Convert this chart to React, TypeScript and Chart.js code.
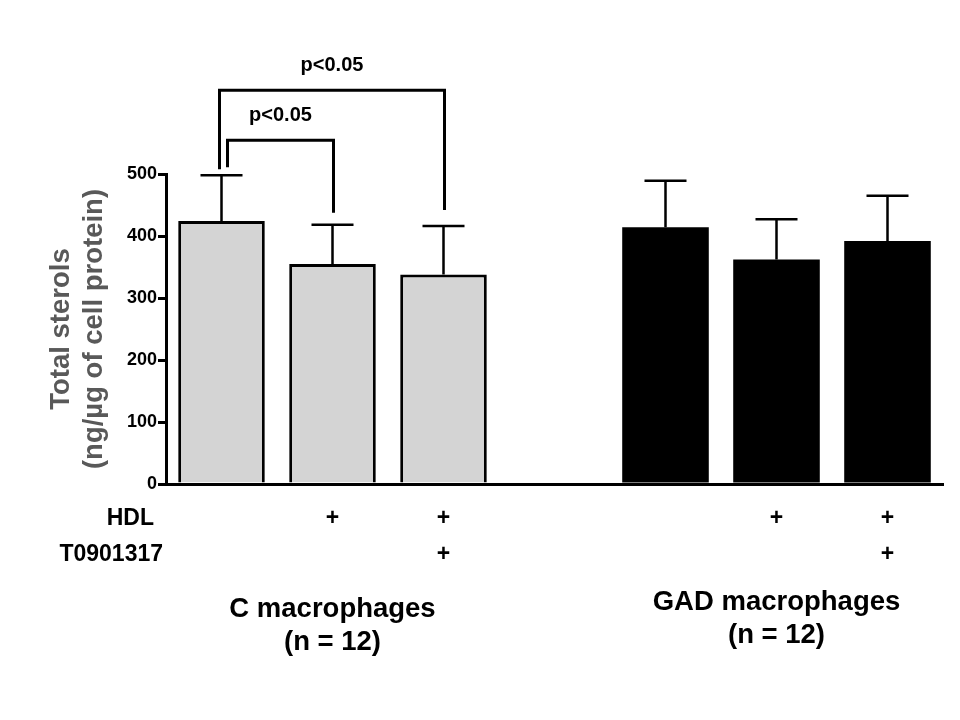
import React, { useEffect, useRef } from "react";
import { Chart, registerables } from "chart.js";

Chart.register(...registerables);

// ---------- data ----------
const categories = ["C", "C + HDL", "C + HDL + T0901317", "", "GAD", "GAD + HDL", "GAD + HDL + T0901317"];
const groupOfBar = ["C", "C", "C", "", "GAD", "GAD", "GAD"];
const meanValues = [424, 355, 338, null, 414, 362, 392];
const sdValues = [74, 63, 78, null, 75, 65, 73];
const hdlRow = ["", "+", "+", "", "", "+", "+"];
const t0901317Row = ["", "", "+", "", "", "", "+"];
const rowLabels = ["HDL", "T0901317"];
const groupLabels = [
  { center: 1, lines: ["C macrophages", "(n = 12)"] },
  { center: 5, lines: ["GAD macrophages", "(n = 12)"] },
];
const comparisons = [
  { from: 0, to: 1, label: "p<0.05" },
  { from: 0, to: 2, label: "p<0.05" },
];
const yTitle = ["Total sterols", "(ng/\u00b5g of cell protein)"];
const yMin = 0;
const yMax = 500;
const yStep = 100;

// ---------- styles ----------
const FONT = "'Liberation Sans', Arial, Helvetica, sans-serif";
const groupFill: Record<string, string> = { C: "#d4d4d4", GAD: "#000000" };
const groupBorder: Record<string, number> = { C: 3, GAD: 0 };

const annotationPlugin = {
  id: "annotations",
  afterDatasetsDraw(chart: any) {
    const ctx: CanvasRenderingContext2D = chart.ctx;
    const xs = chart.scales.x;
    const ys = chart.scales.y;
    const meta = chart.getDatasetMeta(0);
    ctx.save();
    ctx.strokeStyle = "#000";
    ctx.fillStyle = "#000";
    ctx.lineCap = "butt";

    // error bars (upper SD)
    ctx.lineWidth = 2.5;
    const caps: number[] = [];
    meta.data.forEach((bar: any, i: number) => {
      const m = meanValues[i];
      const s = sdValues[i];
      if (m == null || s == null) return;
      const cx = bar.x;
      const yBar = ys.getPixelForValue(m);
      const yCap = ys.getPixelForValue(m + s);
      caps[i] = yCap;
      ctx.beginPath();
      ctx.moveTo(cx, yBar);
      ctx.lineTo(cx, yCap);
      ctx.moveTo(cx - 21, yCap);
      ctx.lineTo(cx + 21, yCap);
      ctx.stroke();
    });

    // significance brackets
    ctx.lineWidth = 3;
    ctx.lineJoin = "miter";
    ctx.font = `bold 20px ${FONT}`;
    ctx.textAlign = "center";
    ctx.textBaseline = "middle";
    comparisons.forEach((c, level) => {
      let highest = Infinity;
      for (let i = c.from; i <= c.to; i++) {
        if (caps[i] != null) highest = Math.min(highest, caps[i]);
      }
      const top = highest - 35 - 50 * level;
      const xl = meta.data[c.from].x + 6 - 8 * level;
      const xr = meta.data[c.to].x + 1;
      const yl = caps[c.from] - 6 - 2 * (1 - level);
      const yr = caps[c.to] - 12 - 4 * level;
      ctx.beginPath();
      ctx.moveTo(xl, yl);
      ctx.lineTo(xl, top);
      ctx.lineTo(xr, top);
      ctx.lineTo(xr, yr);
      ctx.stroke();
      ctx.fillText(c.label, (xl + xr) / 2, top - 25);
    });

    // treatment rows
    const base = ys.getPixelForValue(0);
    const rows = [hdlRow, t0901317Row];
    const rowY = [base + 35, base + 71];
    ctx.font = `bold 23px ${FONT}`;
    rows.forEach((row, r) => {
      ctx.textAlign = "right";
      ctx.fillText(rowLabels[r], r === 0 ? 154 : 163, rowY[r]);
      ctx.textAlign = "center";
      row.forEach((mark, i) => {
        if (mark) ctx.fillText(mark, xs.getPixelForValue(i), rowY[r]);
      });
    });

    // group labels
    ctx.font = `bold 27.5px ${FONT}`;
    ctx.textAlign = "center";
    groupLabels.forEach((g, gi) => {
      const gx = xs.getPixelForValue(g.center);
      const y0 = gi === 0 ? base + 125 : base + 118;
      g.lines.forEach((line, li) => ctx.fillText(line, gx, y0 + li * 33));
    });
    ctx.restore();
  },
};

export default function App() {
  const ref = useRef<HTMLCanvasElement>(null);
  useEffect(() => {
    const chart = new Chart(ref.current as HTMLCanvasElement, {
      type: "bar",
      data: {
        labels: categories,
        datasets: [
          {
            data: meanValues as any,
            backgroundColor: groupOfBar.map((g) => groupFill[g] || "transparent"),
            borderColor: "#000",
            borderWidth: groupOfBar.map((g) => groupBorder[g] || 0) as any,
            borderSkipped: "start",
            barPercentage: 0.78,
            categoryPercentage: 1,
          },
        ],
      },
      options: {
        responsive: false,
        animation: false,
        layout: { padding: { left: 0, right: 17, top: 174, bottom: 236 } },
        plugins: { legend: { display: false }, tooltip: { enabled: false } },
        scales: {
          x: {
            type: "category",
            offset: true,
            grid: { display: false },
            ticks: { display: false },
            border: { display: true, color: "#000", width: 3 },
            afterFit: (s: any) => {
              s.height = 0;
            },
          },
          y: {
            min: yMin,
            max: yMax,
            ticks: {
              stepSize: yStep,
              color: "#000",
              padding: 1,
              font: { family: FONT, size: 18, weight: "bold" },
            },
            grid: {
              display: true,
              drawOnChartArea: false,
              drawTicks: true,
              tickLength: 8,
              color: "#000",
              lineWidth: 3,
            },
            border: { display: true, color: "#000", width: 3 },
            title: {
              display: true,
              text: yTitle,
              color: "#595959",
              font: { family: FONT, size: 27.5, weight: "bold", lineHeight: 1.2 },
              padding: { top: 45, bottom: 0 },
            },
            afterFit: (s: any) => {
              s.width = 166;
            },
          },
        },
      },
      plugins: [annotationPlugin],
    });
    return () => chart.destroy();
  }, []);
  return (
    <div style={{ position: "fixed", left: 0, top: 0, width: 960, height: 720, background: "#fff" }}>
      <canvas ref={ref} width={960} height={720} style={{ width: 960, height: 720, display: "block" }} />
    </div>
  );
}
